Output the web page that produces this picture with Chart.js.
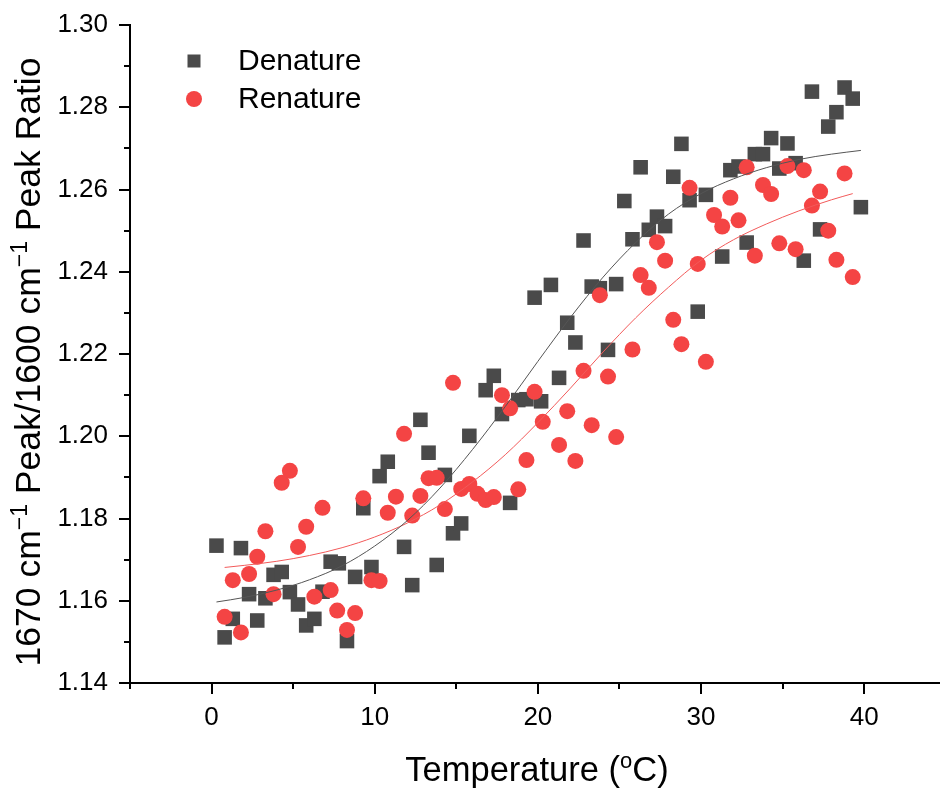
<!DOCTYPE html>
<html><head><meta charset="utf-8">
<script src="https://cdn.jsdelivr.net/npm/chart.js@4.4.1/dist/chart.umd.min.js"></script>
<style>html,body{margin:0;padding:0;background:#fff;overflow:hidden}canvas{display:block}</style>
</head><body>
<canvas id="c" width="940" height="788"></canvas>
<script>
// ---- data ----
const seriesNames = ['Denature', 'Renature'];
const denatureT = [0.3,0.8,1.3,1.8,2.3,2.8,3.3,3.8,4.3,4.8,5.3,5.8,6.3,6.8,7.3,7.8,8.3,8.8,9.3,9.8,10.3,10.8,11.8,12.3,12.8,13.3,13.8,14.3,14.8,15.3,15.8,16.8,17.3,17.8,18.3,18.8,19.3,19.8,20.2,20.8,21.3,21.8,22.3,22.8,23.3,23.8,24.3,24.8,25.3,25.8,26.3,26.8,27.3,27.8,28.3,28.8,29.3,29.8,30.3,31.3,31.8,32.3,32.8,33.3,33.8,34.3,34.8,35.3,35.8,36.3,36.8,37.3,37.8,38.3,38.8,39.3,39.8];
const denatureRatio = [1.1734,1.1511,1.1556,1.1728,1.1616,1.1552,1.1606,1.1663,1.1670,1.1621,1.1591,1.1540,1.1556,1.1622,1.1695,1.1691,1.1502,1.1658,1.1825,1.1682,1.1903,1.1938,1.1731,1.1638,1.2040,1.1960,1.1687,1.1906,1.1764,1.1788,1.2001,1.2112,1.2147,1.2054,1.1838,1.2088,1.2090,1.2337,1.2085,1.2368,1.2142,1.2276,1.2228,1.2476,1.2364,1.2360,1.2210,1.2370,1.2572,1.2479,1.2654,1.2502,1.2534,1.2511,1.2631,1.2711,1.2574,1.2303,1.2587,1.2437,1.2647,1.2656,1.2471,1.2686,1.2686,1.2725,1.2651,1.2712,1.2664,1.2427,1.2838,1.2503,1.2753,1.2788,1.2848,1.2821,1.2557];
const renatureT = [0.8,1.3,1.8,2.3,2.8,3.3,3.8,4.3,4.8,5.3,5.8,6.3,6.8,7.3,7.7,8.3,8.8,9.3,9.8,10.3,10.8,11.3,11.8,12.3,12.8,13.3,13.8,14.3,14.8,15.3,15.8,16.3,16.8,17.3,17.8,18.3,18.8,19.3,19.8,20.3,21.3,21.8,22.3,22.8,23.3,23.8,24.3,24.8,25.8,26.3,26.8,27.3,27.8,28.3,28.8,29.3,29.8,30.3,30.8,31.3,31.8,32.3,32.8,33.3,33.8,34.3,34.8,35.3,35.8,36.3,36.8,37.3,37.8,38.3,38.8,39.3];
const renatureRatio = [1.1561,1.1650,1.1523,1.1665,1.1707,1.1769,1.1616,1.1887,1.1916,1.1731,1.1780,1.1610,1.1826,1.1626,1.1576,1.1529,1.1570,1.1849,1.1650,1.1648,1.1814,1.1853,1.2006,1.1807,1.1855,1.1898,1.1899,1.1823,1.2130,1.1872,1.1884,1.1860,1.1845,1.1852,1.2100,1.2068,1.1871,1.1942,1.2108,1.2035,1.1979,1.2061,1.1940,1.2159,1.2027,1.2343,1.2145,1.1998,1.2211,1.2392,1.2361,1.2472,1.2427,1.2283,1.2224,1.2604,1.2419,1.2181,1.2538,1.2510,1.2580,1.2525,1.2654,1.2439,1.2611,1.2589,1.2469,1.2657,1.2455,1.2647,1.2561,1.2595,1.2500,1.2429,1.2639,1.2387];
// fitted curves
const denatureFitT = [0.3,2,4,6,8,10,12,14,16,18,20,22,24,26,28,30,32,34,36,38,39.8];
const denatureFitRatio = [1.1597,1.1608,1.1626,1.1651,1.1685,1.1733,1.1795,1.1874,1.1968,1.2072,1.2182,1.2289,1.2387,1.2471,1.2540,1.2590,1.2626,1.2653,1.2673,1.2686,1.2695];
const renatureFitT = [0.8,2,4,6,8,10,12,14,16,18,20,22,24,26,28,30,32,34,36,38,39.3];
const renatureFitRatio = [1.1681,1.1686,1.1696,1.1710,1.1729,1.1755,1.1789,1.1833,1.1889,1.1955,1.2033,1.2117,1.2205,1.2288,1.2362,1.2428,1.2478,1.2516,1.2548,1.2575,1.2590];
// axis ticks
const xMajorTicks = [0,10,20,30,40];
const xMinorTicks = [-5,5,15,25,35];
const yMajorTicks = [1.14,1.16,1.18,1.20,1.22,1.24,1.26,1.28,1.30];
const yMinorTicks = [1.15,1.17,1.19,1.21,1.23,1.25,1.27,1.29];
const xTitleParts = [['Temperature (',false],['o',true],['C)',false]];
const yTitleParts = [['1670 cm',false],['\u22121',true],[' Peak/1600 cm',false],['\u22121',true],[' Peak Ratio',false]];

const FONT = '"Liberation Sans", Arial, sans-serif';
const GRAY = '#4a4a4a', RED = '#f44444';

function pts(xs, ys){ return xs.map((x,i)=>({x, y: ys[i]})); }

function drawRich(ctx, parts, size, supSize, supRise){
  let total = 0;
  const widths = parts.map(([t,sup])=>{ ctx.font = (sup?supSize:size)+'px '+FONT; const w = ctx.measureText(t).width; total += w; return w; });
  let x = -total/2;
  parts.forEach(([t,sup],i)=>{
    ctx.font = (sup?supSize:size)+'px '+FONT;
    ctx.fillText(t, x, sup ? -supRise : 0);
    x += widths[i];
  });
}

const decor = {
  id: 'decor',
  afterDraw(chart){
    const ctx = chart.ctx, xs = chart.scales.x, ys = chart.scales.y;
    const a = chart.chartArea;
    ctx.save();
    ctx.strokeStyle = '#000'; ctx.lineWidth = 2; ctx.lineCap = 'butt';
    const tick = (scale, v, len) => {
      const p = Math.round(scale.getPixelForValue(v));
      ctx.beginPath();
      if (scale.axis === 'x') { ctx.moveTo(p, a.bottom); ctx.lineTo(p, a.bottom + len); }
      else { ctx.moveTo(a.left, p); ctx.lineTo(a.left - len, p); }
      ctx.stroke();
    };
    xMajorTicks.forEach(v=>tick(xs,v,11)); xMinorTicks.forEach(v=>tick(xs,v,6));
    yMajorTicks.forEach(v=>tick(ys,v,11)); yMinorTicks.forEach(v=>tick(ys,v,6));
    // titles
    ctx.fillStyle = '#000'; ctx.textBaseline = 'alphabetic'; ctx.textAlign = 'left';
    ctx.save();
    ctx.translate((a.left + a.right)/2 + 2, 781);
    drawRich(ctx, xTitleParts, 34.5, 22, 13);
    ctx.restore();
    ctx.save();
    ctx.translate(40, (a.top + a.bottom)/2 + 8);
    ctx.rotate(-Math.PI/2);
    drawRich(ctx, yTitleParts, 35.5, 23, 13);
    ctx.restore();
    // legend
    const items = chart.data.datasets.filter(d=>d.inLegend).sort((p,q)=>seriesNames.indexOf(p.label)-seriesNames.indexOf(q.label));
    items.forEach((d,i)=>{
      const cy = 61 + i*38, cx = 194;
      ctx.fillStyle = d.backgroundColor;
      if (d.pointStyle === 'rect') { ctx.fillRect(cx-6.5, cy-6.5, 13, 13); }
      else { ctx.beginPath(); ctx.arc(cx, cy, 8, 0, Math.PI*2); ctx.fill(); }
      ctx.fillStyle = '#000';
      ctx.font = '30px ' + FONT;
      ctx.textBaseline = 'middle';
      ctx.fillText(d.label, 238, cy + 1);
    });
    ctx.restore();
  }
};

const zeroPad = s => { s.paddingTop = 0; s.paddingBottom = 0; s.paddingLeft = 0; s.paddingRight = 0; };

new Chart(document.getElementById('c'), {
  type: 'scatter',
  data: {
    datasets: [
      { type:'line', label:'Denature fit', data: pts(denatureFitT, denatureFitRatio), borderColor:'#555555', borderWidth:1, pointRadius:0, fill:false, cubicInterpolationMode:'monotone', order:0 },
      { type:'line', label:'Renature fit', data: pts(renatureFitT, renatureFitRatio), borderColor:'#f25a5a', borderWidth:1, pointRadius:0, fill:false, cubicInterpolationMode:'monotone', order:0 },
      { label: seriesNames[1], inLegend:true, data: pts(renatureT, renatureRatio), pointStyle:'circle', pointRadius:8, backgroundColor: RED, borderColor: RED, borderWidth:0, order:1 },
      { label: seriesNames[0], inLegend:true, data: pts(denatureT, denatureRatio), pointStyle:'rect', pointRadius:10.3, backgroundColor: GRAY, borderColor: GRAY, borderWidth:0, order:2 }
    ]
  },
  options: {
    responsive:false, animation:false, devicePixelRatio:1,
    layout:{ autoPadding:false, padding:{ left:0, top:25, right:0, bottom:0 } },
    plugins:{ legend:{display:false}, tooltip:{enabled:false} },
    scales:{
      x:{ type:'linear', min:-5, max:44.65,
        afterBuildTicks: s => { s.ticks = [...xMinorTicks, ...xMajorTicks].sort((a,b)=>a-b).map(v=>({value:v})); },
        afterFit: s => { s.height = 105; zeroPad(s); },
        grid:{ display:true, drawOnChartArea:false, drawTicks:true, tickLength:10, color:'rgba(0,0,0,0)' },
        border:{ display:true, color:'#000', width:2 },
        ticks:{ autoSkip:false, maxRotation:0, padding:9, color:'#000', font:{ family:FONT, size:26 },
          callback: v => xMajorTicks.includes(v) ? String(v) : '' }
      },
      y:{ type:'linear', min:1.14, max:1.30,
        afterBuildTicks: s => { s.ticks = [...yMinorTicks, ...yMajorTicks].sort((a,b)=>a-b).map(v=>({value:v})); },
        afterFit: s => { s.width = 130; zeroPad(s); },
        grid:{ display:true, drawOnChartArea:false, drawTicks:true, tickLength:10, color:'rgba(0,0,0,0)' },
        border:{ display:true, color:'#000', width:2 },
        ticks:{ autoSkip:false, padding:12, color:'#000', font:{ family:FONT, size:26 },
          callback: v => yMajorTicks.some(t=>Math.abs(t-v)<1e-9) ? v.toFixed(2) : '' }
      }
    }
  },
  plugins:[decor]
});
</script>
</body></html>
